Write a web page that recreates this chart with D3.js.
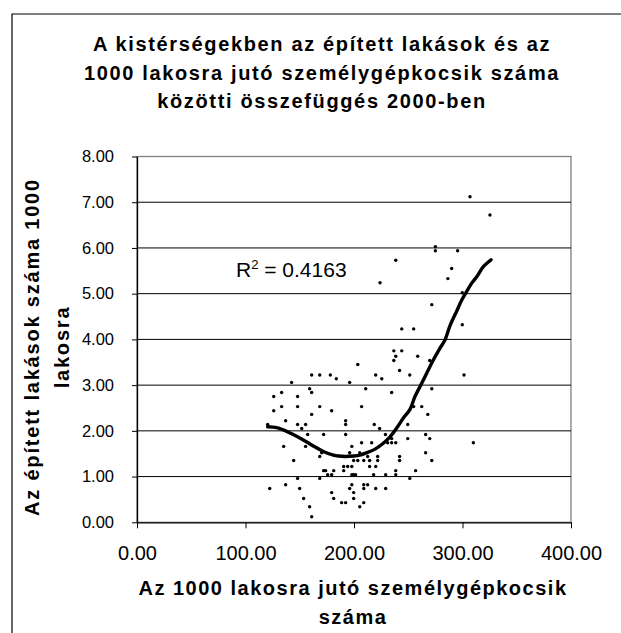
<!DOCTYPE html>
<html>
<head>
<meta charset="utf-8">
<script src="https://cdn.jsdelivr.net/npm/d3@7"></script>
<style>
  html, body { margin: 0; padding: 0; background: #fff; }
  svg { display: block; }
</style>
</head>
<body>
<svg id="chart" width="621" height="633"></svg>
<script>
// ---- Data ----
const titleLines = ["A kistérségekben az épített lakások  és az", "1000 lakosra jutó személygépkocsik száma", "közötti összefüggés 2000-ben"];
const xTitleLines = ["Az 1000 lakosra jutó személygépkocsik", "száma"];
const yTitleLines = ["Az épített lakások száma 1000", "lakosra"];
const xTicks = [0, 100, 200, 300, 400];
const yTicks = [0, 1, 2, 3, 4, 5, 6, 7, 8];
const r2Label = "0.4163";

// scatter points: cars per 1000 inhabitants (x) and dwellings built per 1000 inhabitants (y)
const carsX = [275,275,295.5,238.5,290,286.5,224,271.7,244,255,236.7,244,238.5,236.7,258.7,269.8,203.5,242,161,168.4,178.2,220,251.4,183.7,225.6,142.5,196,159.1,210.8,271.7,161,133.3,234.7,126,148,133.3,148,168.4,207,255,262.4,126,179.4,161,268,137,192.3,192.3,120.4,148,155.4,151.8,218.7,249.5,223.6,172,157.3,192.3,266,269.8,234.7,249.5,229,231,234.7,238.5,207,216.3,135.2,155.4,198,196,266,205.3,170.2,168.4,212.6,221.8,242,144.4,199.7,203.5,209,214.4,221.8,242,271.7,190.5,194.2,198,214.4,220,172,173.9,181.3,190.5,238.5,256.8,175.7,179.4,198,199.7,201.5,218.1,229.2,238.5,168.4,148,251.4,137,209,212.6,198,122.3,149.9,196,209,220,229.2,199.7,179.4,181.3,153.6,199.7,188.6,192.3,209,159.1,205.3,161,306.9,325.3,299.8,299.8,301.4,310];
const dwellY = [6.03,5.94,5.94,5.73,5.55,5.33,5.24,4.76,4.23,4.23,3.75,3.75,3.63,3.54,3.63,3.54,3.45,3.32,3.22,3.22,3.22,3.22,3.22,3.14,3.14,3.06,3.06,2.92,2.92,2.92,2.84,2.84,2.84,2.75,2.75,2.53,2.53,2.53,2.53,2.53,2.53,2.44,2.44,2.36,2.36,2.22,2.22,2.14,2.14,2.14,2.14,2.05,2.14,2.14,2.05,1.92,1.92,1.92,1.92,1.83,1.83,1.83,1.92,1.74,1.74,1.74,1.74,1.74,1.66,1.66,1.66,1.52,1.52,1.52,1.52,1.44,1.44,1.44,1.44,1.35,1.35,1.35,1.35,1.35,1.35,1.35,1.35,1.22,1.22,1.22,1.22,1.22,1.13,1.13,1.13,1.13,1.13,1.13,1.04,1.04,1.04,1.04,1.04,1.04,1.04,1.04,0.96,0.96,0.96,0.82,0.82,0.82,0.82,0.74,0.74,0.74,0.74,0.74,0.74,0.65,0.65,0.52,0.52,0.52,0.43,0.43,0.43,0.34,0.34,0.12,7.12,6.72,5.02,4.32,3.22,1.74];

// trendline (polynomial fit shown in the reference)
const trendX = [120.4,128.7,134.9,144,153.3,162.5,171.7,181,185.6,192,199.4,205.5,211.7,219.4,227,233.2,239.3,245.5,251.6,256.2,262.4,267,273.1,279.3,283.9,288.5,294.7,299.3,303.9,308.5,313.1,319.2,326.3];
const trendY = [2.09,2.07,2.02,1.92,1.80,1.67,1.55,1.47,1.45,1.44,1.45,1.47,1.52,1.60,1.73,1.87,2.06,2.28,2.47,2.75,3.04,3.26,3.55,3.81,3.99,4.30,4.62,4.86,5.05,5.23,5.37,5.59,5.74];

// ---- Chart ----
const svg = d3.select("#chart");
const FONT = "'Liberation Sans', Arial, Helvetica, sans-serif";
const plot = { left: 137, right: 571, top: 156.5, bottom: 522.3 };

const x = d3.scaleLinear().domain([0, 400]).range([plot.left, plot.right]);
const y = d3.scaleLinear().domain([0, 8]).range([plot.bottom, plot.top]);

// outer chart frame (left and top edges visible)
svg.append("path")
  .attr("d", `M12,633 L12,14 L621,14`)
  .attr("fill", "none").attr("stroke", "#000").attr("stroke-width", 1.2);

// title
svg.append("g").selectAll("text").data(titleLines).join("text")
  .attr("x", 322).attr("y", (d, i) => 51 + i * 28.5)
  .attr("text-anchor", "middle")
  .attr("font-family", FONT).attr("font-weight", "bold").attr("font-size", 20)
  .attr("letter-spacing", 1.65)
  .attr("fill", "#000")
  .text(d => d);

// plot border (grey top/right)
svg.append("rect")
  .attr("x", plot.left).attr("y", plot.top)
  .attr("width", plot.right - plot.left).attr("height", plot.bottom - plot.top)
  .attr("fill", "#fff").attr("stroke", "#808080").attr("stroke-width", 1.3);

// horizontal gridlines
svg.append("g").selectAll("line").data(yTicks.filter(v => v > 0 && v < 8)).join("line")
  .attr("x1", plot.left).attr("x2", plot.right)
  .attr("y1", d => y(d)).attr("y2", d => y(d))
  .attr("stroke", "#000").attr("stroke-width", 1);

// axes
const fmt = d3.format(".2f");
const xAxis = svg.append("g").attr("transform", `translate(0,${plot.bottom})`)
  .call(d3.axisBottom(x).tickValues(xTicks).tickFormat(fmt).tickSize(6).tickSizeOuter(0).tickPadding(17.5));
const yAxis = svg.append("g").attr("transform", `translate(${plot.left},0)`)
  .call(d3.axisLeft(y).tickValues(yTicks).tickFormat(fmt).tickSize(5).tickSizeOuter(0).tickPadding(18));

[xAxis, yAxis].forEach(g => {
  g.select(".domain").attr("stroke", "#000").attr("stroke-width", 1.3);
  g.selectAll(".tick line").attr("stroke", "#000").attr("stroke-width", 1);
  g.selectAll(".tick text").attr("font-family", FONT).attr("fill", "#000");
});
xAxis.selectAll(".tick text").attr("font-size", 20);
yAxis.selectAll(".tick text").attr("font-size", 16.5);

// scatter points
const pts = carsX.map((v, i) => ({ x: v, y: dwellY[i] }));
svg.append("g").selectAll("circle").data(pts).join("circle")
  .attr("cx", d => x(d.x)).attr("cy", d => y(d.y)).attr("r", 1.7)
  .attr("fill", "#000");

// trendline
const trend = trendX.map((v, i) => [v, trendY[i]]);
svg.append("path")
  .attr("d", d3.line().x(d => x(d[0])).y(d => y(d[1])).curve(d3.curveCatmullRom)(trend))
  .attr("fill", "none").attr("stroke", "#000").attr("stroke-width", 3.4)
  .attr("stroke-linejoin", "round").attr("stroke-linecap", "round");

// R² label
const r2 = svg.append("text")
  .attr("x", 236).attr("y", 277)
  .attr("font-family", FONT).attr("font-size", 21).attr("fill", "#000");
r2.append("tspan").text("R");
r2.append("tspan").attr("font-size", 13).attr("dy", -8).text("2");
r2.append("tspan").attr("dy", 8).text(" = " + r2Label);

// x-axis title
svg.append("g").selectAll("text").data(xTitleLines).join("text")
  .attr("x", 353).attr("y", (d, i) => 595 + i * 29)
  .attr("text-anchor", "middle")
  .attr("font-family", FONT).attr("font-weight", "bold").attr("font-size", 20)
  .attr("letter-spacing", 1.5)
  .attr("fill", "#000")
  .text(d => d);

// y-axis title
svg.append("g").selectAll("text").data(yTitleLines).join("text")
  .attr("transform", (d, i) => `translate(${39 + i * 30},347) rotate(-90)`)
  .attr("text-anchor", "middle")
  .attr("font-family", FONT).attr("font-weight", "bold").attr("font-size", 20)
  .attr("letter-spacing", 1.8)
  .attr("fill", "#000")
  .text(d => d);
</script>
</body>
</html>
